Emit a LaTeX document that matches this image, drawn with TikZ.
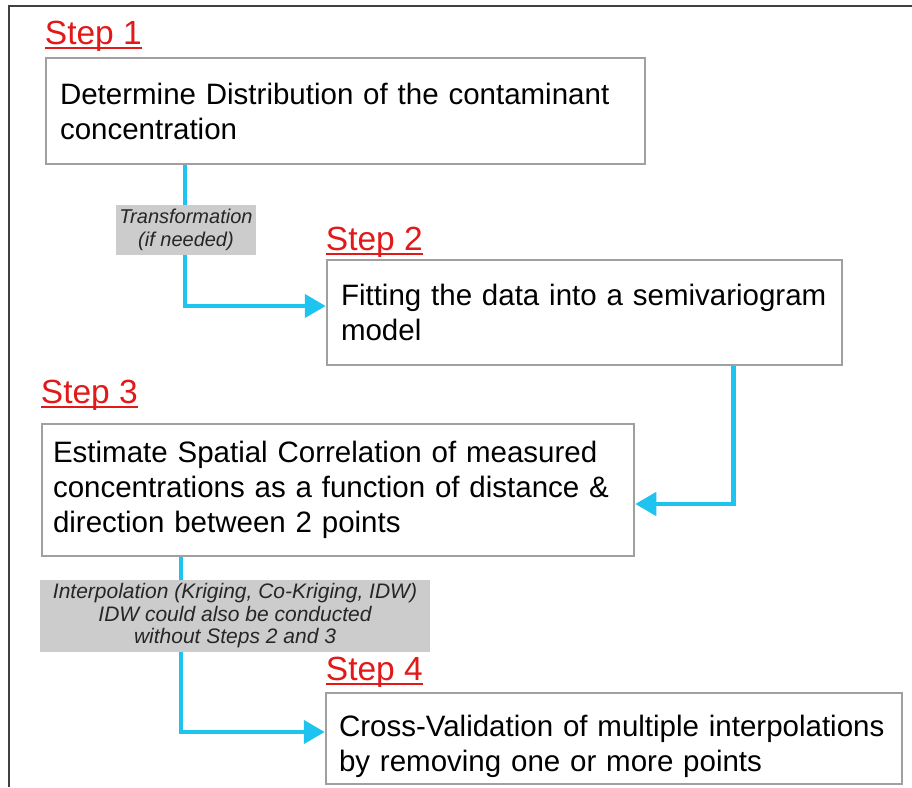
\documentclass[tikz,border=0pt]{standalone}
\usepackage{fontspec}
\setmainfont{Liberation Sans}
\usetikzlibrary{positioning,arrows.meta}
\definecolor{flowcyan}{RGB}{30,195,240}
\definecolor{boxgray}{RGB}{160,160,160}
\definecolor{stepred}{RGB}{225,25,25}
\definecolor{notegray}{RGB}{204,204,204}
\newsavebox{\steptextbox}
\newcommand{\stepname}[1]{\sbox{\steptextbox}{Step #1}%
  \rlap{\usebox{\steptextbox}}\rule[-4pt]{\wd\steptextbox}{1.6pt}}
\tikzset{
  stepbox/.style={draw=boxgray, line width=2.5pt, fill=white, align=left,
    inner xsep=14pt, inner ysep=0pt, font=\fontsize{29.5}{35}\selectfont},
  steplabel/.style={text=stepred, inner sep=0pt, font=\fontsize{33.5}{36}\selectfont},
  note/.style={fill=notegray, text=black!85, align=center, inner sep=0pt},
  flow/.style={draw=flowcyan, line width=4.5pt, -{Triangle[length=21pt,width=23pt]}}
}

\begin{document}
\begin{tikzpicture}[x=1pt,y=-1pt]
\useasboundingbox (0,0) rectangle (912,787);
% frame
\draw[line width=2pt, black!75] (912,6) -- (9,6) -- (9,787);

% boxes
\node[stepbox, text width=571pt, minimum height=106pt] (b1) at (345.5,111)
  {Determine Distribution of the contaminant\\concentration};
\node[stepbox, text width=487pt, minimum height=105pt] (b2) at (584.5,312.5)
  {Fitting the data into a semivariogram\\model};
\node[stepbox, inner xsep=11pt, text width=570pt, minimum height=132pt] (b3) at (338,490)
  {Estimate Spatial Correlation of measured\\concentrations as a function of distance \&\\direction between 2 points};
\node[stepbox, inner xsep=13pt, text width=550pt, minimum height=91pt] (b4) at (614,738.5)
  {\rule{0pt}{38pt}Cross-Validation of multiple interpolations\\by removing one or more points};

% step labels
\node[steplabel, above right=5pt and 0pt of b1.north west] (s1) {\stepname{1}};
\node[steplabel, above right=1pt and 0pt of b2.north west] (s2) {\stepname{2}};
\node[steplabel, above right=12pt and 0pt of b3.north west] (s3) {\stepname{3}};
\node[steplabel, above right=4pt and 1pt of b4.north west] (s4) {\stepname{4}};

% connectors
\draw[flow] ([xshift=140pt]b1.south west) |- ([yshift=6.5pt]b2.west);
\draw[flow] ([xshift=-110pt]b2.south east) |- ([yshift=-14pt]b3.east);
\draw[flow] ([xshift=140pt]b3.south west) |- ([yshift=6.5pt]b4.west);

% notes on the connectors
\node[note, minimum width=140pt, minimum height=50pt,
  font=\itshape\fontsize{20}{23}\selectfont] (n1) at (186,230)
  {Transformation\\(if needed)};
\node[note, minimum width=390pt, minimum height=72pt,
  font=\itshape\fontsize{21}{22.5}\selectfont] (n2) at (235,616)
  {Interpolation (Kriging, Co-Kriging, IDW)\\IDW could also be conducted\\without Steps 2 and 3};
\end{tikzpicture}
\end{document}
